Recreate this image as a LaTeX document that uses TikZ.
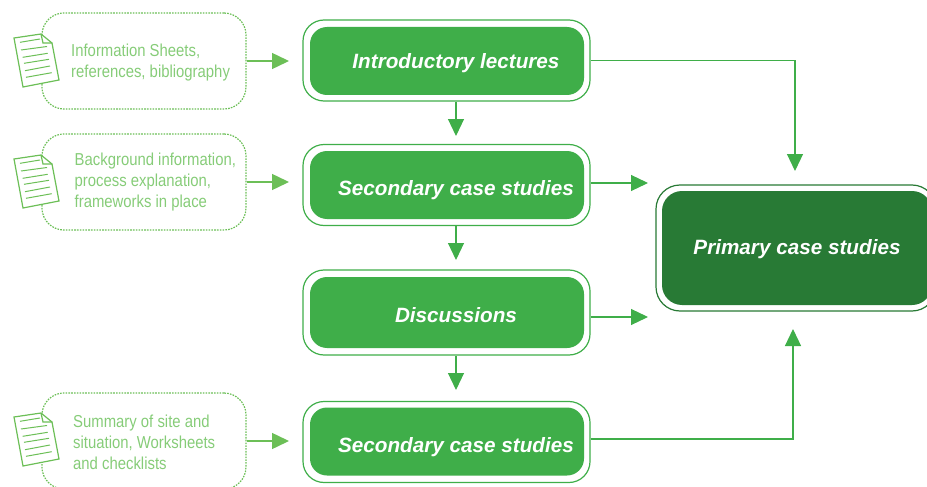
\documentclass[tikz,border=0pt]{standalone}
\usepackage{fontspec}
\setmainfont{Liberation Sans}
\newfontfamily\narrowfont[FakeStretch=0.86]{Liberation Sans}
\usetikzlibrary{arrows.meta,calc}
\definecolor{midgreen}{HTML}{3FAE49}
\definecolor{darkgreen}{HTML}{287A35}
\definecolor{lightline}{HTML}{6CBF57}
\definecolor{lighttext}{HTML}{86CC78}
\tikzset{
  x=1pt,y=-1pt,
  outerbox/.style={draw=midgreen,line width=1.2pt,rounded corners=21pt,fill=white,inner sep=0pt,minimum width=287pt,minimum height=81pt},
  innerbox/.style={fill=midgreen,rounded corners=17pt,inner sep=0pt,minimum width=274pt,minimum height=68pt},
  boxlabel/.style={text=white,inner sep=0pt,font=\fontsize{20.7}{25}\selectfont\bfseries\itshape},
  darkouter/.style={outerbox,draw=darkgreen,minimum width=280pt,minimum height=126pt,rounded corners=24pt},
  darkinner/.style={innerbox,fill=darkgreen,minimum width=270pt,minimum height=114pt,rounded corners=20pt},
  dashbox/.style={draw=lightline,line width=1.2pt,dash pattern=on 1.6pt off 1.2pt,rounded corners=22pt,inner sep=0pt,minimum width=204pt,minimum height=96pt},
  infotext/.style={text=lighttext,align=left,inner sep=0pt,font=\narrowfont\fontsize{17.3}{21}\selectfont},
  link/.style={draw=midgreen,line width=1.2pt,-{Triangle[length=17pt,width=16pt]}},
  feed/.style={draw=lightline,line width=1.5pt,-{Triangle[length=17pt,width=16pt]}},
  docline/.style={draw=lightline,line width=1pt},
  docicon/.pic={
    \draw[docline,fill=white,line width=1.2pt] (14,38) -- (41,34) -- (52,43) -- (59,80) -- (23,87) -- cycle;
    \draw[docline,line width=1.2pt] (41,34) -- (43,43) -- (52,43);
    \foreach \a/\b/\c/\d in {20/42.3/40/39, 21/50/47/46.5, 22.7/57.3/47.7/53.3, 24/63.3/49/59.3, 25/70.7/50/66, 26/77.3/51.7/72.7}
      \draw[docline] (\a,\b) -- (\c,\d);
  }
}
\begin{document}
\begin{tikzpicture}
\useasboundingbox (0,0) rectangle (927,487);
\clip (0,0) rectangle (927,487);
% dashed source boxes
\node[dashbox] (d1) at (144,61) {};
\node[dashbox] (d2) at (144,182) {};
\node[dashbox] (d3) at (144,441) {};
\pic at (0,0) {docicon};
\pic at (0,121) {docicon};
\pic at (0,379) {docicon};
\node[infotext,anchor=west] (t1) at (71,62.5) {Information Sheets,\\references, bibliography};
\node[infotext,anchor=west] (t2) at (74.5,182.5) {Background information,\\process explanation,\\frameworks in place};
\node[infotext,anchor=west] (t3) at (73,442) {Summary of site and\\situation, Worksheets\\and checklists};
% main boxes
\node[outerbox] (b1) at (446.5,60.5) {};
\node[innerbox] (i1) at (447,61) {};
\node[boxlabel] (l1) at (456,63) {Introductory lectures};
\node[outerbox] (b2) at (446.5,185) {};
\node[innerbox] (i2) at (447,185) {};
\node[boxlabel] (l2) at (456,190) {Secondary case studies};
\node[outerbox,minimum height=85pt] (b3) at (446.5,312.5) {};
\node[innerbox,minimum height=71pt] (i3) at (447,312.5) {};
\node[boxlabel] (l3) at (456,315) {Discussions};
\node[outerbox] (b4) at (446.5,442) {};
\node[innerbox] (i4) at (447,441.5) {};
\node[boxlabel] (l4) at (456,447) {Secondary case studies};
\node[darkouter] (p) at (796,248) {};
\node[darkinner] (pi) at (797,248) {};
\node[boxlabel] (pt) at (797,249) {Primary case studies};
% free ends
\coordinate (e1) at (289,61);
\coordinate (e2) at (289,182);
\coordinate (e3) at (289,441);
\coordinate (a1) at (456,136);
\coordinate (a2) at (456,260);
\coordinate (a3) at (456,390);
\coordinate (pa) at (795,171);
\coordinate (pb) at (648,183);
\coordinate (pc) at (648,317);
\coordinate (pd) at (793,329);
% connectors
\draw[feed] (d1.east) -- (e1);
\draw[feed] (d2.east) -- (e2);
\draw[feed] (d3.east) -- (e3);
\draw[link] (b1.south -| a1) -- (a1);
\draw[link] (b2.south -| a2) -- (a2);
\draw[link] (b3.south -| a3) -- (a3);
\draw[link] (b1.east) -| (pa);
\draw[link] (b2.east |- pb) -- (pb);
\draw[link] (b3.east |- pc) -- (pc);
\draw[link] (b4.east |- 0,439) -| (pd);
\end{tikzpicture}
\end{document}
